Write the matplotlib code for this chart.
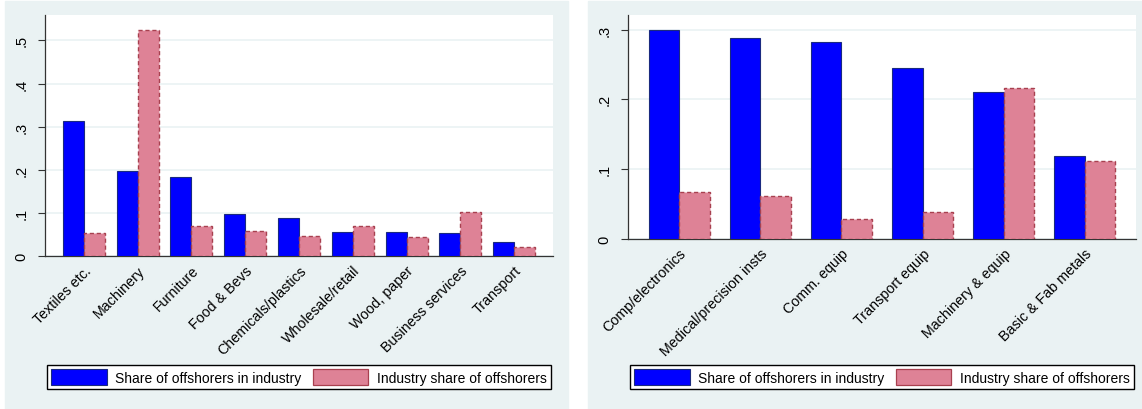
"""Two Stata-style grouped bar panels: offshoring shares by industry."""
import numpy as np
import matplotlib
matplotlib.use("Agg")
import matplotlib.pyplot as plt
from matplotlib.patches import Rectangle, Patch

plt.rcParams["font.family"] = ["Liberation Sans", "DejaVu Sans"]

# left panel: all industries
left_cats = ["Textiles etc.", "Machinery", "Furniture", "Food & Bevs",
             "Chemicals/plastics", "Wholesale/retail", "Wood, paper",
             "Business services", "Transport"]
left_share_in = [0.313, 0.196, 0.183, 0.098, 0.088, 0.056, 0.056, 0.053, 0.032]
left_share_of = [0.053, 0.525, 0.070, 0.057, 0.047, 0.070, 0.044, 0.103, 0.022]
left_ticks = [0, 0.1, 0.2, 0.3, 0.4, 0.5]
left_ticklabels = ["0", ".1", ".2", ".3", ".4", ".5"]

# right panel: manufacturing detail
right_cats = ["Comp/electronics", "Medical/precision insts", "Comm. equip",
              "Transport equip", "Machinery & equip", "Basic & Fab metals"]
right_share_in = [0.300, 0.2875, 0.282, 0.2445, 0.210, 0.1185]
right_share_of = [0.068, 0.061, 0.029, 0.038, 0.216, 0.112]
right_ticks = [0, 0.1, 0.2, 0.3]
right_ticklabels = ["0", ".1", ".2", ".3"]

series_labels = ["Share of offshorers in industry", "Industry share of offshorers"]

BG = "#eaf2f3"
BLUE = "#0000ff"
PINK = "#de8296"
PINK_EDGE = "#a8404f"
W, H = 1142, 410


def px(x0, y0, x1, y1):
    """pixel box (top-left origin) -> figure fraction rect"""
    return [x0 / W, 1 - y1 / H, (x1 - x0) / W, (y1 - y0) / H]


def panel(fig, rect, cats, a, b, ticks, ticklabels, ymax, xpad, bw, leg_box):
    ax = fig.add_axes(rect)
    x = np.arange(len(cats))
    ax.bar(x - bw / 2, a, bw, color=BLUE, edgecolor="#1a2a80", linewidth=0.8, zorder=3)
    ax.bar(x + bw / 2, b, bw, color=PINK, edgecolor=PINK_EDGE, linewidth=1.0,
           linestyle=(0, (3, 2)), zorder=3)
    ax.set_xlim(-xpad, len(cats) - 1 + xpad)
    ax.set_ylim(0, ymax)
    ax.set_xticks(x)
    ax.set_xticklabels(cats, rotation=45, ha="right", rotation_mode="anchor", fontsize=10.3)
    ax.tick_params(axis="x", length=0, pad=5)
    ax.set_yticks(ticks)
    ax.set_yticklabels(ticklabels, rotation=90, va="center", fontsize=10.5)
    ax.tick_params(axis="y", length=5, width=0.8, color="#333333", pad=7)
    ax.grid(axis="y", color=BG, linewidth=1.2, zorder=0)
    for s in ["top", "right"]:
        ax.spines[s].set_visible(False)
    for s in ["left", "bottom"]:
        ax.spines[s].set_color("#333333")
        ax.spines[s].set_linewidth(0.9)
    ax.set_facecolor("white")

    handles = [Patch(facecolor=BLUE, edgecolor="#1a2a80", linewidth=0.8),
               Patch(facecolor=PINK, edgecolor=PINK_EDGE, linewidth=0.9)]
    lx0, ly0, lx1, ly1 = leg_box
    fig.legend(handles, series_labels, ncol=2, loc="center",
               bbox_to_anchor=((lx0 + lx1) / 2 / W, 1 - (ly0 + ly1) / 2 / H),
               frameon=True, fancybox=False, edgecolor="black", framealpha=1,
               fontsize=10, handlelength=4.0, handleheight=1.3,
               columnspacing=0.8, handletextpad=0.6, borderpad=0.35,
               borderaxespad=0)
    return ax


fig = plt.figure(figsize=(W / 100, H / 100), dpi=100)
fig.patch.set_facecolor("white")
fig.patches.append(Rectangle((5 / W, 0), (568 - 5) / W, 1 - 2 / H,
                             transform=fig.transFigure, color=BG, zorder=-10))
fig.patches.append(Rectangle((588 / W, 0), (1142 - 588) / W, 1 - 2 / H,
                             transform=fig.transFigure, color=BG, zorder=-10))

panel(fig, px(45, 16, 553, 257), left_cats, left_share_in, left_share_of,
      left_ticks, left_ticklabels, 0.559, 0.72, 0.39, (50, 364, 548, 392))
panel(fig, px(628, 16, 1136, 240), right_cats, right_share_in, right_share_of,
      right_ticks, right_ticklabels, 0.321, 0.63, 0.376, (633, 364, 1131, 392))

fig.savefig("out.png", dpi=100, facecolor="white")
